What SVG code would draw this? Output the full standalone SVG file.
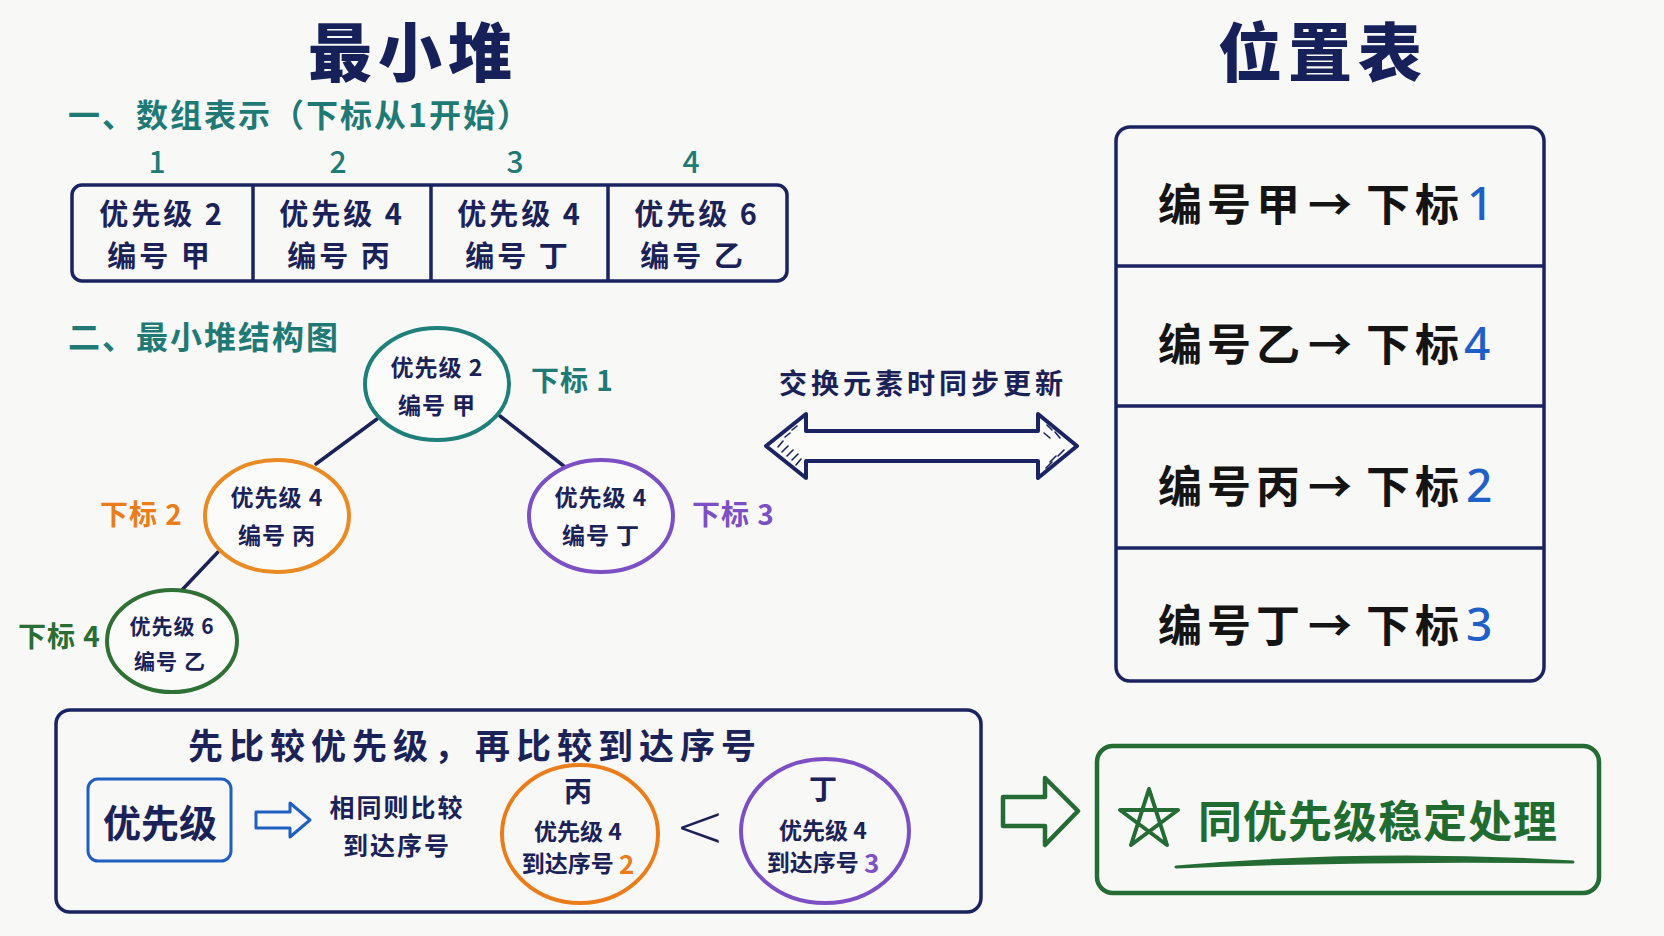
<svg xmlns="http://www.w3.org/2000/svg" width="1664" height="936" viewBox="0 0 1664 936">
<style>
text{font-family:"Noto Sans CJK SC","Noto Sans",sans-serif;dominant-baseline:central}
.title{font-size:64px;font-weight:900;fill:#16215a;text-anchor:middle;letter-spacing:6px}
.sec{font-size:32px;font-weight:700;fill:#1f7a76;letter-spacing:2px}
.idx{font-size:30px;font-weight:500;fill:#1f7a76;text-anchor:middle}
.cell{font-size:29px;font-weight:700;fill:#1a2258;text-anchor:middle;letter-spacing:3px}
.nt{font-size:23px;font-weight:700;fill:#1a2258;text-anchor:middle;letter-spacing:1px}
.nav{fill:none;stroke:#1a2460;stroke-width:3.5;stroke-linejoin:round}
.edge{stroke:#1a2258;stroke-width:3.5;stroke-linecap:round}
.row{font-size:44px;font-weight:700;fill:#141414}
.num{font-family:"Noto Sans","Liberation Sans",sans-serif;font-size:46px;font-weight:500;fill:#1f5fc8}
.lab{font-size:28px;font-weight:700;letter-spacing:1px}
.sm{font-size:25px;font-weight:700;fill:#1a2258;text-anchor:middle}
</style>
<rect width="1664" height="936" fill="#f8f8f6"/>

<g id="titles">
<text class="title" x="413" y="48">最小堆</text>
<text class="title" x="1323" y="48">位置表</text>
</g>

<g id="array">
<text class="sec" x="68" y="113">一、数组表示（下标从1开始）</text>
<text class="idx" x="157" y="160">1</text>
<text class="idx" x="338" y="160">2</text>
<text class="idx" x="515" y="160">3</text>
<text class="idx" x="691" y="160">4</text>
<rect class="nav" x="72" y="185" width="715" height="96" rx="10"/>
<line class="nav" x1="253" y1="185" x2="253" y2="281"/>
<line class="nav" x1="431" y1="185" x2="431" y2="281"/>
<line class="nav" x1="608" y1="185" x2="608" y2="281"/>
<text class="cell" x="162" y="212">优先级 2</text>
<text class="cell" x="160" y="254">编号 甲</text>
<text class="cell" x="342" y="212">优先级 4</text>
<text class="cell" x="340" y="254">编号 丙</text>
<text class="cell" x="520" y="212">优先级 4</text>
<text class="cell" x="518" y="254">编号 丁</text>
<text class="cell" x="697" y="212">优先级 6</text>
<text class="cell" x="693" y="254">编号 乙</text>
</g>

<text class="sec" x="68" y="335">二、最小堆结构图</text>

<g id="connectors">
<line class="edge" x1="377" y1="419" x2="316" y2="464"/>
<line class="edge" x1="500" y1="416" x2="565" y2="467"/>
<line class="edge" x1="218" y1="552" x2="181" y2="591"/>
</g>

<g id="node-root">
<ellipse cx="437" cy="384" rx="72" ry="56" fill="#fbfbf9" stroke="#1f7f7a" stroke-width="4"/>
<text class="nt" x="437" y="366">优先级 2</text>
<text class="nt" x="437" y="404">编号 甲</text>
<text class="lab" x="531" y="379" fill="#1f7a76">下标 1</text>
</g>
<g id="node-left">
<ellipse cx="277" cy="516" rx="72" ry="56" fill="#fbfbf9" stroke="#ea8a22" stroke-width="4"/>
<text class="nt" x="277" y="496">优先级 4</text>
<text class="nt" x="277" y="534">编号 丙</text>
<text class="lab" x="100" y="513" fill="#ea7d1a">下标 2</text>
</g>
<g id="node-right">
<ellipse cx="601" cy="516" rx="72" ry="56" fill="#fbfbf9" stroke="#7d4fc4" stroke-width="4"/>
<text class="nt" x="601" y="496">优先级 4</text>
<text class="nt" x="601" y="534">编号 丁</text>
<text class="lab" x="692" y="513" fill="#7d4fc4">下标 3</text>
</g>
<g id="node-bottom">
<ellipse cx="172" cy="641" rx="65" ry="51" fill="#fbfbf9" stroke="#2f7034" stroke-width="4"/>
<text class="nt" x="172" y="625" style="font-size:21px">优先级 6</text>
<text class="nt" x="170" y="660" style="font-size:21px">编号 乙</text>
<text class="lab" x="18" y="635" fill="#2a6e34">下标 4</text>
</g>

<g id="swap">
<text x="923" y="382" style="font-size:28px;font-weight:700;fill:#1a2258;text-anchor:middle;letter-spacing:4px">交换元素时同步更新</text>
<path d="M766,446 L806,414 L806,431 L1038,431 L1038,414 L1077,446 L1038,478 L1038,461 L806,461 L806,478 Z" fill="#fbfbf9" stroke="#1a2460" stroke-width="4" stroke-linejoin="round"/>
<g stroke="#1a2460" stroke-width="1.6" stroke-linecap="round">
<line x1="778" y1="447" x2="783" y2="441"/><line x1="782" y1="452" x2="788" y2="446"/><line x1="787" y1="456" x2="793" y2="450"/><line x1="792" y1="460" x2="798" y2="454"/><line x1="796" y1="465" x2="801" y2="459"/><line x1="785" y1="437" x2="790" y2="433"/><line x1="792" y1="430" x2="797" y2="426"/>
<line x1="1047" y1="425" x2="1052" y2="430"/><line x1="1044" y1="433" x2="1050" y2="438"/><line x1="1055" y1="432" x2="1060" y2="438"/><line x1="1050" y1="462" x2="1056" y2="456"/><line x1="1046" y1="468" x2="1052" y2="462"/><line x1="1058" y1="456" x2="1064" y2="450"/>
</g>
</g>

<g id="pos-table">
<rect class="nav" x="1116" y="127" width="428" height="554" rx="14"/>
<line class="nav" x1="1116" y1="266" x2="1544" y2="266"/>
<line class="nav" x1="1116" y1="406" x2="1544" y2="406"/>
<line class="nav" x1="1116" y1="548" x2="1544" y2="548"/>
<text class="row" x="1158" y="202" style="letter-spacing:5px">编号甲<tspan x="1308">→</tspan><tspan x="1366">下标</tspan><tspan class="num" x="1467">1</tspan></text>
<text class="row" x="1158" y="342" style="letter-spacing:5px">编号乙<tspan x="1308">→</tspan><tspan x="1366">下标</tspan><tspan class="num" x="1464">4</tspan></text>
<text class="row" x="1158" y="484" style="letter-spacing:5px">编号丙<tspan x="1308">→</tspan><tspan x="1366">下标</tspan><tspan class="num" x="1466">2</tspan></text>
<text class="row" x="1158" y="623" style="letter-spacing:5px">编号丁<tspan x="1308">→</tspan><tspan x="1366">下标</tspan><tspan class="num" x="1466">3</tspan></text>
</g>

<g id="compare-box">
<rect class="nav" x="56" y="710" width="925" height="202" rx="14"/>
<text x="475" y="743" style="font-size:35px;font-weight:700;fill:#1a2258;text-anchor:middle;letter-spacing:6px">先比较优先级，再比较到达序号</text>
</g>
<g id="prio-box">
<rect x="88" y="779" width="143" height="82" rx="10" fill="none" stroke="#1f5fbf" stroke-width="3"/>
<text x="160" y="820" style="font-size:38px;font-weight:700;fill:#1a2258;text-anchor:middle">优先级</text>
</g>
<path d="M256,812 L290,812 L290,803 L310,820 L290,837 L290,828 L256,828 Z" fill="none" stroke="#1f5fbf" stroke-width="3" stroke-linejoin="round"/>
<g id="tie-text">
<text class="sm" x="397" y="806" style="letter-spacing:2px">相同则比较</text>
<text class="sm" x="397" y="844" style="letter-spacing:2px">到达序号</text>
</g>
<g id="cmp-bing">
<ellipse cx="580" cy="834" rx="78" ry="69" fill="none" stroke="#ea7d1a" stroke-width="4"/>
<text x="578" y="790" style="font-size:28px;font-weight:700;fill:#1a2258;text-anchor:middle">丙</text>
<text class="sm" x="578" y="830" style="font-size:23px">优先级 4</text>
<text class="sm" x="578" y="862" style="font-size:23px">到达序号 <tspan fill="#ea7d1a" style="font-size:26px">2</tspan></text>
</g>
<text x="700" y="826" style="font-size:60px;font-weight:300;fill:#1a2258;text-anchor:middle;font-family:'DejaVu Sans',sans-serif">&lt;</text>
<g id="cmp-ding">
<ellipse cx="825" cy="831" rx="84" ry="72" fill="none" stroke="#7d4fc4" stroke-width="4"/>
<text x="823" y="788" style="font-size:28px;font-weight:700;fill:#1a2258;text-anchor:middle">丁</text>
<text class="sm" x="823" y="829" style="font-size:23px">优先级 4</text>
<text class="sm" x="823" y="861" style="font-size:23px">到达序号 <tspan fill="#7d4fc4" style="font-size:26px">3</tspan></text>
</g>

<path d="M1003,797 L1045,797 L1045,778 L1078,811 L1045,845 L1045,826 L1003,826 Z" fill="none" stroke="#246b34" stroke-width="4.5" stroke-linejoin="round"/>

<g id="stable-box">
<rect x="1097" y="746" width="502" height="147" rx="16" fill="none" stroke="#246b34" stroke-width="4.5"/>
<path d="M1149,789 L1167,845 L1120,810 L1178,810 L1131,845 Z" fill="none" stroke="#246b34" stroke-width="4" stroke-linejoin="round"/>
<text x="1198" y="819" style="font-size:44px;font-weight:700;fill:#1f6b30;letter-spacing:1px">同优先级稳定处理</text>
<path d="M1176,867 Q1370,850 1573,862 Q1370,859 1176,867 Z" fill="#246b34" stroke="#246b34" stroke-width="3" stroke-linejoin="round"/>
</g>
</svg>
